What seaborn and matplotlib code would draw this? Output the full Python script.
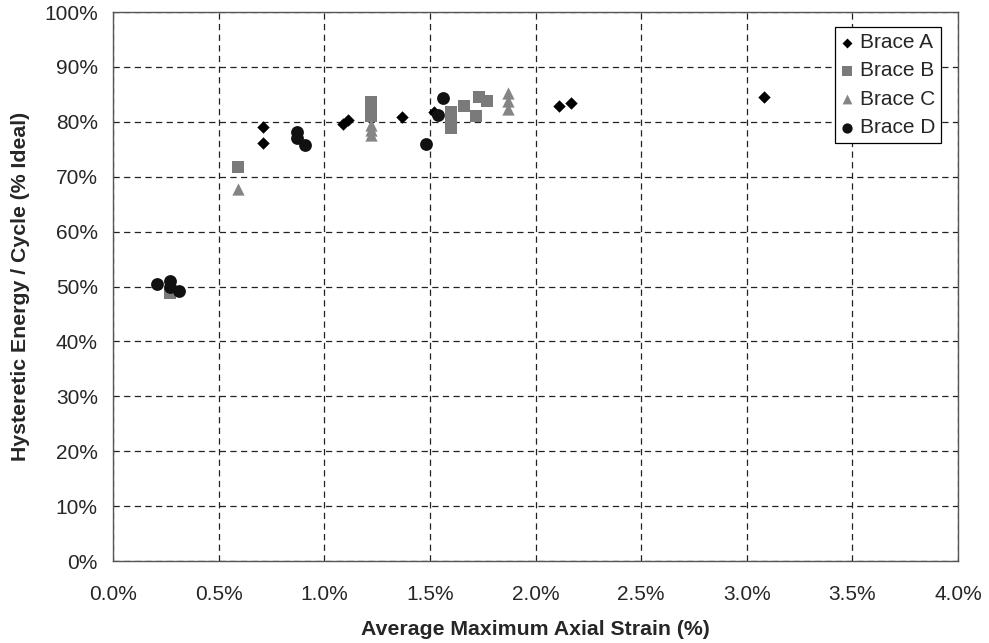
import matplotlib
matplotlib.use("Agg")
import matplotlib.pyplot as plt
import seaborn as sns
import pandas as pd
from matplotlib.ticker import FuncFormatter, MultipleLocator

# average max axial strain (%) and hysteretic energy per cycle (% of ideal)
brace_a_x = [0.71, 0.71, 1.09, 1.11, 1.37, 1.52, 2.11, 2.17, 3.08]
brace_a_y = [79.0, 76.1, 79.6, 80.3, 80.9, 81.7, 82.9, 83.4, 84.6]

brace_b_x = [0.27, 0.59, 1.22, 1.22, 1.22, 1.60, 1.60, 1.60, 1.66, 1.73, 1.77, 1.72]
brace_b_y = [48.8, 71.8, 83.6, 82.4, 81.0, 81.8, 80.3, 78.9, 82.9, 84.5, 83.8, 81.1]

brace_c_x = [0.59, 1.22, 1.22, 1.22, 1.87, 1.87, 1.87]
brace_c_y = [67.8, 79.4, 78.5, 77.6, 85.3, 83.8, 82.4]

brace_d_x = [0.21, 0.27, 0.27, 0.31, 0.87, 0.87, 0.91, 1.48, 1.54, 1.56]
brace_d_y = [50.5, 51.0, 49.9, 49.1, 78.1, 77.1, 75.8, 75.9, 81.2, 84.4]

names = ["Brace A", "Brace B", "Brace C", "Brace D"]
series = [(brace_a_x, brace_a_y), (brace_b_x, brace_b_y),
          (brace_c_x, brace_c_y), (brace_d_x, brace_d_y)]

rows = []
for name, (xs, ys) in zip(names, series):
    for x, y in zip(xs, ys):
        rows.append({"Brace": name, "strain": x, "energy": y})
df = pd.DataFrame(rows)

sns.set_style("white")
plt.rcParams["font.family"] = ["Liberation Sans", "DejaVu Sans"]

fig = plt.figure(figsize=(9.89, 6.43), dpi=100)
ax = fig.add_axes([0.1143, 0.1275, 0.8544, 0.8538])

palette = {"Brace A": "#000000", "Brace B": "#7a7a7a",
           "Brace C": "#858585", "Brace D": "#111111"}
markers = {"Brace A": "D", "Brace B": "s", "Brace C": "^", "Brace D": "o"}
sizes = {"Brace A": 40, "Brace B": 75, "Brace C": 78, "Brace D": 85}

for name in names:
    sub = df[df["Brace"] == name]
    sns.scatterplot(data=sub, x="strain", y="energy", color=palette[name],
                    marker=markers[name], s=sizes[name], linewidth=0,
                    label=name, ax=ax, zorder=3)

ax.set_xlim(0, 4.0)
ax.set_ylim(0, 100)
ax.xaxis.set_major_locator(MultipleLocator(0.5))
ax.yaxis.set_major_locator(MultipleLocator(10))
ax.xaxis.set_major_formatter(FuncFormatter(lambda v, p: f"{v:.1f}%"))
ax.yaxis.set_major_formatter(FuncFormatter(lambda v, p: f"{v:.0f}%"))
ax.tick_params(length=0, labelsize=15)
ax.tick_params(axis="x", pad=17)
ax.tick_params(axis="y", pad=11)

ax.grid(True, color="#222222", linestyle=(0, (5, 3.5)), linewidth=0.9)
for sp in ax.spines.values():
    sp.set_color("#555555")
    sp.set_linewidth(1)

ax.set_xlabel("Average Maximum Axial Strain (%)", fontsize=15.3,
              fontweight="bold", labelpad=12)
ax.set_ylabel("Hysteretic Energy / Cycle (% Ideal)", fontsize=15.3,
              fontweight="bold", labelpad=10)

leg = ax.legend(loc="upper right", bbox_to_anchor=(0.98, 0.973),
                fontsize=15, frameon=True, fancybox=False,
                edgecolor="#000000", framealpha=1, borderpad=0.3,
                handlelength=0.6, handletextpad=0.3, labelspacing=0.45,
                markerscale=0.8, borderaxespad=0)
leg.get_frame().set_linewidth(0.9)

fig.savefig("out.png", dpi=100)
